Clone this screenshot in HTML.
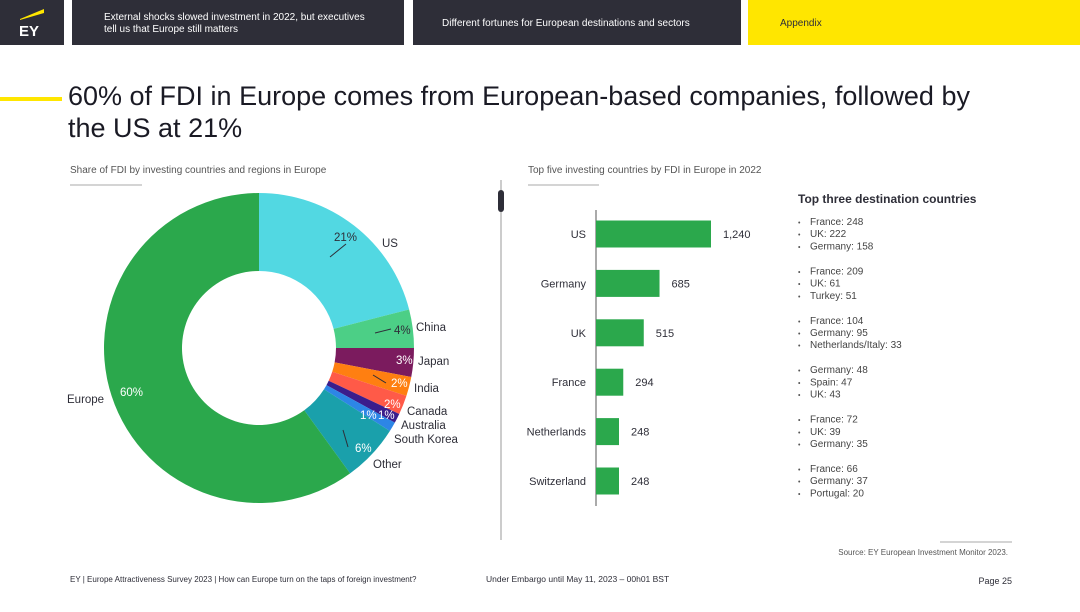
<!DOCTYPE html>
<html><head><meta charset="utf-8">
<style>
html,body{margin:0;padding:0;background:#fff;}
body{width:1080px;height:607px;overflow:hidden;font-family:"Liberation Sans",sans-serif;}
svg text{font-family:"Liberation Sans",sans-serif;}
</style></head>
<body>
<svg id="s" width="1080" height="607" viewBox="0 0 1080 607" xmlns="http://www.w3.org/2000/svg">
  <g>
    <rect x="0" y="0" width="64" height="45" fill="#2e2e38"/>
    <polygon points="20,19 44,9 44,13 20,20" fill="#ffe600"/>
    <text x="19" y="36" font-size="15" font-weight="bold" fill="#fff">EY</text>
    <rect x="72" y="0" width="332" height="45" fill="#2e2e38"/>
    <text x="104" y="20" font-size="10" fill="#fff">External shocks slowed investment in 2022, but executives</text>
    <text x="104" y="32" font-size="10" fill="#fff">tell us that Europe still matters</text>
    <rect x="413" y="0" width="328" height="45" fill="#2e2e38"/>
    <text x="442" y="26" font-size="10" fill="#fff">Different fortunes for European destinations and sectors</text>
    <rect x="748" y="0" width="332" height="45" fill="#ffe600"/>
    <text x="780" y="26" font-size="10" fill="#2e2e38">Appendix</text>
  </g>
  <rect x="0" y="97" width="62" height="4" fill="#ffe600"/>
  <text x="68" y="105" font-size="27" fill="#1a1a24">60% of FDI in Europe comes from European-based companies, followed by</text>
  <text x="68" y="137" font-size="27" fill="#1a1a24">the US at 21%</text>

  <text x="70" y="173" font-size="10" fill="#555">Share of FDI by investing countries and regions in Europe</text>
  <line x1="70" y1="185" x2="142" y2="185" stroke="#aaa" stroke-width="1"/>
  <g id="donut"></g>

  <line x1="501" y1="180" x2="501" y2="540" stroke="#999" stroke-width="1"/>
  <rect x="498" y="190" width="6" height="22" rx="3" fill="#2e2e38"/>

  <text x="528" y="173" font-size="10" fill="#555">Top five investing countries by FDI in Europe in 2022</text>
  <line x1="528" y1="185" x2="599" y2="185" stroke="#aaa" stroke-width="1"/>
  <g id="bars"></g>

  <text x="798" y="203" font-size="12" font-weight="bold" fill="#2e2e38">Top three destination countries</text>
  <g id="dest"></g>

  <line x1="940" y1="542" x2="1012" y2="542" stroke="#aaa" stroke-width="1"/>
  <text x="1008" y="555" font-size="8" fill="#555" text-anchor="end">Source: EY European Investment Monitor 2023.</text>
  <text x="70" y="582" font-size="8" fill="#2e2e38">EY | Europe Attractiveness Survey 2023 | How can Europe turn on the taps of foreign investment?</text>
  <text x="486" y="582" font-size="8.5" fill="#2e2e38">Under Embargo until May 11, 2023 – 00h01 BST</text>
  <text x="1012" y="584" font-size="9" fill="#2e2e38" text-anchor="end">Page 25</text>
</svg>
<script>
var NS="http://www.w3.org/2000/svg";
// Donut data
var sliceNames=["US","China","Japan","India","Canada","Australia","South Korea","Other","Europe"];
var sliceValues=[21,4,3,2,2,1,1,6,60];
var sliceColors=["#52d8e2","#4ccf86","#7b1b5e","#ff7f11","#ff5a48","#3b1d8c","#2d86e6","#1aa0ab","#2ba84c"];
// Bar data
var barCats=["US","Germany","UK","France","Netherlands","Switzerland"];
var barValues=[1240,685,515,294,248,248];
var barLabels=["1,240","685","515","294","248","248"];
// Destination lists
var destLists=[["France: 248","UK: 222","Germany: 158"],["France: 209","UK: 61","Turkey: 51"],["France: 104","Germany: 95","Netherlands/Italy: 33"],["Germany: 48","Spain: 47","UK: 43"],["France: 72","UK: 39","Germany: 35"],["France: 66","Germany: 37","Portugal: 20"]];

function mk(tag,attrs,parent){var e=document.createElementNS(NS,tag);for(var k in attrs)e.setAttribute(k,attrs[k]);parent.appendChild(e);return e;}

(function(){
  var g=document.getElementById("donut");
  var cx=259,cy=348,R=155,r=77;
  var total=sliceValues.reduce(function(a,b){return a+b;},0);
  var a0=0;
  function pt(rad,a){return [cx+rad*Math.sin(a),cy-rad*Math.cos(a)];}
  for(var i=0;i<sliceValues.length;i++){
    var a1=a0+sliceValues[i]/total*2*Math.PI;
    var p1=pt(R,a0),p2=pt(R,a1),p3=pt(r,a1),p4=pt(r,a0);
    var large=(a1-a0)>Math.PI?1:0;
    var d="M"+p1+" A"+R+","+R+" 0 "+large+" 1 "+p2+" L"+p3+" A"+r+","+r+" 0 "+large+" 0 "+p4+" Z";
    var p=mk("path",{d:d,fill:sliceColors[i]},g);
    
    
    a0=a1;
  }
  // labels (annotation positions)
  var labs=[
    ["21%",334,241,"#2e2e38"],["US",382,247,"#2e2e38"],
    ["4%",394,334,"#2e2e38"],["China",416,331,"#2e2e38"],
    ["3%",396,364,"#fff"],["Japan",418,365,"#2e2e38"],
    ["2%",391,387,"#fff"],["India",414,392,"#2e2e38"],
    ["2%",384,408,"#fff"],["Canada",407,415,"#2e2e38"],
    ["1%",360,419,"#fff"],["1%",378,419,"#fff"],["Australia",401,429,"#2e2e38"],["South Korea",394,443,"#2e2e38"],
    ["6%",355,452,"#fff"],["Other",373,468,"#2e2e38"],
    ["60%",120,396,"#fff"],["Europe",67,403,"#2e2e38"]];
  labs.forEach(function(l){
    var t=mk("text",{x:l[1],y:l[2],"font-size":11.5,fill:l[3]},g);
    t.textContent=l[0];
    
    
  });
  var leaders=[[330,257,346,244],[375,333,391,329],[373,375,386,383],[343,430,348,447]];
  leaders.forEach(function(L){
    var ln=mk("line",{x1:L[0],y1:L[1],x2:L[2],y2:L[3],stroke:"#2e2e38","stroke-width":1},g);
    
    
  });
})();

(function(){
  var g=document.getElementById("bars");
  var x0=596,scale=115/1240,y0=234,step=49.4,h=27;
  function xs(v){return x0+v*scale;}
  function ys(i){return y0+i*step;}
  var ax=mk("line",{x1:x0,y1:210,x2:x0,y2:506,stroke:"#555","stroke-width":1},g);
  
  
  for(var i=0;i<barValues.length;i++){
    var b=mk("rect",{x:x0,y:ys(i)-h/2,width:xs(barValues[i])-x0,height:h,fill:"#2ba84c"},g);
    
    
    var c=mk("text",{x:x0-10,y:ys(i)+4,"font-size":11,"text-anchor":"end",fill:"#2e2e38"},g);
    c.textContent=barCats[i];
    
    
    var v=mk("text",{x:xs(barValues[i])+12,y:ys(i)+4,"font-size":11,fill:"#2e2e38"},g);
    v.textContent=barLabels[i];
    
    
  }
})();

(function(){
  var g=document.getElementById("dest");
  for(var i=0;i<destLists.length;i++){
    for(var j=0;j<3;j++){
      var y=225+i*49.4+j*12.2;
      var bl=mk("text",{x:798,y:y,"font-size":7,fill:"#555"},g);
      bl.textContent="•";
      
      
      var t=mk("text",{x:810,y:y,"font-size":10,fill:"#444"},g);
      t.textContent=destLists[i][j];
      
      
    }
  }
})();
</script>
</body></html>
